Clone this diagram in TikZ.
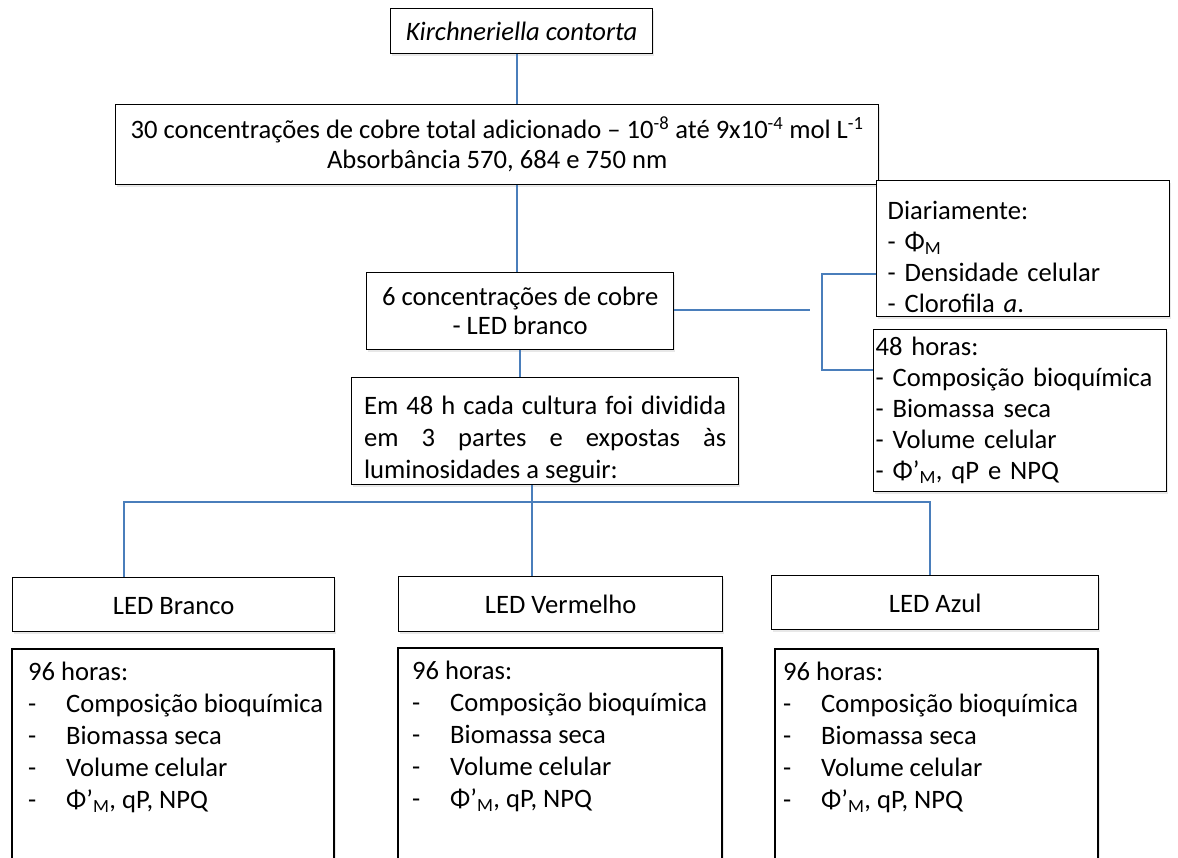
\documentclass[tikz,border=0pt]{standalone}
\usepackage{fontspec}
\setmainfont{Carlito}
\usetikzlibrary{shadows}
\definecolor{linkblue}{RGB}{74,126,187}
\newcommand*\listitem[1]{\makebox[38pt][l]{-}#1}
\newcommand*\fsz{\fontsize{26.6}{32}\selectfont}

\begin{document}
\begin{tikzpicture}[x=1pt,y=-1pt,
  box/.style={draw=black, line width=1.3pt, fill=white, inner sep=0pt, font=\fsz,
    drop shadow={opacity=0.18, shadow xshift=1.5pt, shadow yshift=-2pt}},
  link/.style={draw=linkblue, line width=1.3pt}]
\useasboundingbox (0,0) rectangle (1178,857);
\clip (0,0) rectangle (1178,857);

\node[box, anchor=north west, minimum width=262, minimum height=45] (kc) at (390,8) {\textit{Kirchneriella contorta}};
\node[box, anchor=north west, minimum width=763, minimum height=80, align=center, font=\fontsize{26.6}{30}\selectfont] (c30) at (115,104)
  {30 concentrações de cobre total adicionado -- 10\textsuperscript{-8} até 9x10\textsuperscript{-4} mol L\textsuperscript{-1}\\Absorbância 570, 684 e 750 nm};
\node[box, anchor=north west, minimum width=293, minimum height=136, inner xsep=11, text width=271, align=left, font=\fontsize{26.6}{31}\selectfont] (diar) at (876,180)
  {\rule{0pt}{35pt}Diariamente:\\- Φ\textsubscript{M}\\- Densidade celular\\- Clorofila \textit{a}.};
\node[box, anchor=north west, minimum width=307, minimum height=77, align=center, font=\fontsize{26.6}{29}\selectfont] (c6) at (366,272)
  {6 concentrações de cobre\\- LED branco};
\node[box, anchor=north west, minimum width=293, minimum height=162, inner xsep=2, text width=289, align=left, font=\fontsize{26.6}{31}\selectfont] (h48) at (873,329)
  {48 horas:\\- Composição bioquímica\\- Biomassa seca\\- Volume celular\\- Φ’\textsubscript{M}, qP e NPQ};
\node[box, anchor=north west, minimum width=387, minimum height=107, inner xsep=12.5, text width=362, align=justify] (em48) at (351,377)
  {\rule{0pt}{36pt}Em 48 h cada cultura foi dividida\linebreak em 3 partes e expostas às\linebreak luminosidades a seguir:};

% luzes
\node[box, anchor=north west, minimum width=322, minimum height=54, text height=24pt, text depth=4pt] (ledB) at (12,577) {LED Branco};
\node[box, anchor=north west, minimum width=324, minimum height=55, text height=23pt, text depth=4pt] (ledV) at (398,576) {LED Vermelho};
\node[box, anchor=north west, minimum width=327, minimum height=54, text height=24pt, text depth=4pt] (ledA) at (771,575) {LED Azul};

\draw[box] (12,649) rectangle (334,880);
\draw[box] (398,648) rectangle (722,880);
\draw[box] (775,649) rectangle (1098,880);
\node[anchor=north west, inner sep=0pt, align=left, font=\fsz] (lB) at (28,662)
  {96 horas:\\\listitem{Composição bioquímica}\\\listitem{Biomassa seca}\\\listitem{Volume celular}\\\listitem{Φ’\textsubscript{M}, qP, NPQ}};
\node[anchor=north west, inner sep=0pt, align=left, font=\fsz] (lV) at (412,661)
  {96 horas:\\\listitem{Composição bioquímica}\\\listitem{Biomassa seca}\\\listitem{Volume celular}\\\listitem{Φ’\textsubscript{M}, qP, NPQ}};
\node[anchor=north west, inner sep=0pt, align=left, font=\fsz] (lA) at (783,662)
  {96 horas:\\\listitem{Composição bioquímica}\\\listitem{Biomassa seca}\\\listitem{Volume celular}\\\listitem{Φ’\textsubscript{M}, qP, NPQ}};

% ligacoes
\coordinate (spine) at (517,0);
\coordinate (spine2) at (520,0);
\coordinate (mid) at (532,502);
\coordinate (busL) at (124,502);
\coordinate (busR) at (930,502);
\coordinate (bt) at (822,274);
\coordinate (bb) at (822,370);
\coordinate (gapend) at (810,310);
\draw[link] (spine |- kc.south) -- (spine |- c30.north);
\draw[link] (spine |- c30.south) -- (spine |- c6.north);
\draw[link] (spine2 |- c6.south) -- (spine2 |- em48.north);
\draw[link] (c6.east |- gapend) -- (gapend);
\draw[link] (bt -| diar.west) -- (bt) -- (bb) -- (bb -| h48.west);
\draw[link] (mid |- em48.south) -- (mid |- ledV.north);
\draw[link] (busL |- ledB.north) -- (busL) -- (busR) -- (busR |- ledA.north);
\end{tikzpicture}
\end{document}
